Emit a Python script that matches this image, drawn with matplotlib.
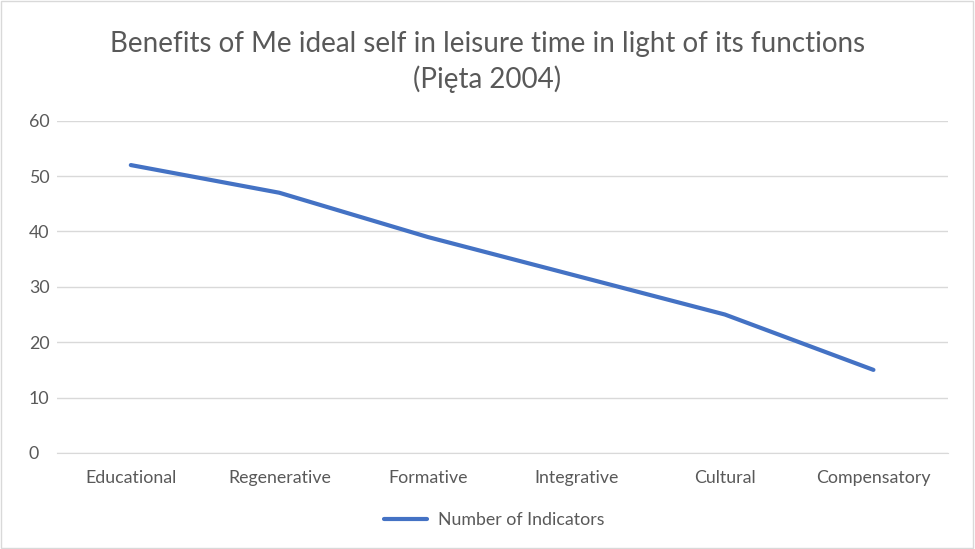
import matplotlib
matplotlib.use("Agg")
import matplotlib.pyplot as plt
from matplotlib.patches import Rectangle

categories = ["Educational", "Regenerative", "Formative", "Integrative", "Cultural", "Compensatory"]
indicators = [52, 47, 39, 32, 25, 15]
series_name = "Number of Indicators"
title = "Benefits of Me ideal self in leisure time in light of its functions\n(Pięta 2004)"

plt.rcParams["font.family"] = ["Lato", "DejaVu Sans"]
text_col = "#595959"

fig = plt.figure(figsize=(9.75, 5.49), dpi=100)
ax = fig.add_axes([0.058, 0.175, 0.914, 0.605])

x = list(range(len(categories)))
ax.plot(x, indicators, color="#4472C4", linewidth=3.0, solid_capstyle="round",
        label=series_name)

ax.set_xlim(-0.5, len(categories) - 0.5)
ax.set_ylim(0, 60)
ax.set_yticks(range(0, 61, 10))
ax.set_xticks(x)
ax.set_xticklabels(categories)
ax.grid(axis="y", color="#D9D9D9", linewidth=1)
ax.set_axisbelow(True)
for s in ["top", "right", "left"]:
    ax.spines[s].set_visible(False)
ax.spines["bottom"].set_color("#D9D9D9")
ax.tick_params(axis="both", length=0, colors=text_col, labelsize=12.8)
ax.tick_params(axis="x", pad=12.5)
ax.tick_params(axis="y", pad=20)
for lbl in ax.get_yticklabels():
    lbl.set_horizontalalignment("left")

fig.text(0.5, 0.887, title, ha="center", va="center", fontsize=20,
         color=text_col, linespacing=1.4)

leg = fig.legend(loc="center", bbox_to_anchor=(0.507, 0.052), frameon=False,
                 fontsize=12.8, handlelength=2.4, handletextpad=0.6)
for t in leg.get_texts():
    t.set_color(text_col)

fig.patches.append(Rectangle((0.001, 0.002), 0.997, 0.996, transform=fig.transFigure,
                             fill=False, edgecolor="#D9D9D9", linewidth=1))

fig.savefig("out.png", dpi=100, facecolor="white")
